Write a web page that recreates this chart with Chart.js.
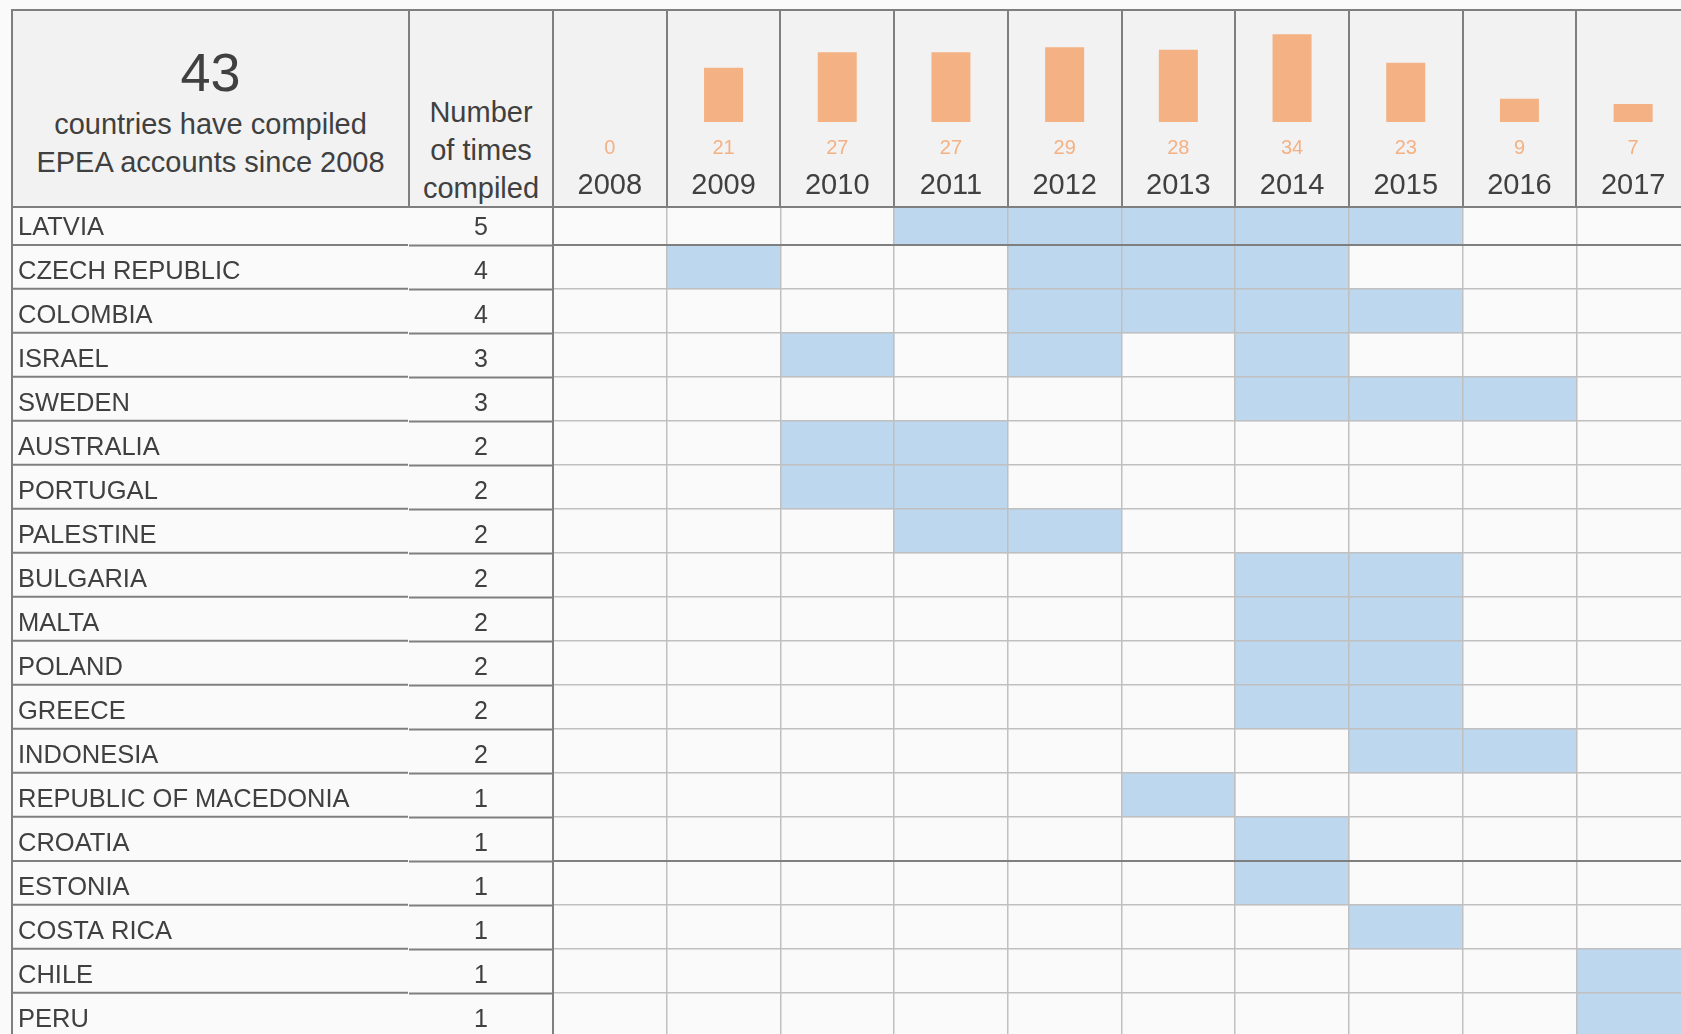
<!DOCTYPE html>
<html>
<head>
<meta charset="utf-8">
<script src="https://cdn.jsdelivr.net/npm/chart.js@4/dist/chart.umd.min.js"></script>
<style>
  html, body { margin: 0; padding: 0; background: #fafafa; overflow: hidden; width: 1681px; height: 1034px; }
  body { position: relative; font-family: "Liberation Sans", Arial, sans-serif; color: #404040; }
  #grid { position: absolute; left: 11px; top: 181px; z-index: 1; }
  #head { position: absolute; left: 11px; top: 9px; width: 1700px; height: 199px; box-sizing: border-box;
          background: #f2f2f2; border-top: 2px solid #7f7f7f; border-bottom: 2px solid #7f7f7f; z-index: 2; }
  #cellA { position: absolute; left: 2px; top: 0; width: 395px; height: 195px; border-right: 2px solid #7f7f7f; text-align: center; }
  #cellA .big { position: absolute; left: 0; right: 0; top: 31px; font-size: 54px; line-height: 60px; }
  #cellA .desc { position: absolute; left: 0; right: 0; top: 94px; font-size: 29px; line-height: 38px; }
  #cellB { position: absolute; left: 399px; top: 82px; width: 142px; text-align: center; font-size: 29px; line-height: 38px; }
  #bars { position: absolute; left: 2px; top: 0; }
  #leftline { position: absolute; left: 11px; top: 9px; width: 2px; height: 1100px; background: #7f7f7f; z-index: 3; }
</style>
</head>
<body>
<canvas id="grid" width="1679" height="876"></canvas>
<div id="head">
  <div id="cellA">
    <div class="big">43</div>
    <div class="desc">countries have compiled<br>EPEA accounts since 2008</div>
  </div>
  <div id="cellB">Number<br>of times<br>compiled</div>
  <canvas id="bars" width="1677" height="195"></canvas>
</div>
<div id="leftline"></div>

<script>
const years = ["2008", "2009", "2010", "2011", "2012", "2013", "2014", "2015", "2016", "2017"];
const countriesPerYear = [0, 21, 27, 27, 29, 28, 34, 23, 9, 7];

const countries = [
    "LATVIA", "CZECH REPUBLIC", "COLOMBIA", "ISRAEL", "SWEDEN", "AUSTRALIA", "PORTUGAL",
    "PALESTINE", "BULGARIA", "MALTA", "POLAND", "GREECE", "INDONESIA",
    "REPUBLIC OF MACEDONIA", "CROATIA", "ESTONIA", "COSTA RICA", "CHILE", "PERU"
];
const timesCompiled = [5, 4, 4, 3, 3, 2, 2, 2, 2, 2, 2, 2, 2, 1, 1, 1, 1, 1, 1];
const yearsCompiled = [
    [2011, 2012, 2013, 2014, 2015],
    [2009, 2012, 2013, 2014],
    [2012, 2013, 2014, 2015],
    [2010, 2012, 2014],
    [2014, 2015, 2016],
    [2010, 2011],
    [2010, 2011],
    [2011, 2012],
    [2014, 2015],
    [2014, 2015],
    [2014, 2015],
    [2014, 2015],
    [2015, 2016],
    [2013],
    [2014],
    [2014],
    [2015],
    [2017],
    [2017]
];

const DARK = "#7f7f7f";
const LIGHT = "#c0c0c0";
const TEXT = "#404040";
const ORANGE = "#f4b183";
const BLUE = "#bdd7ee";

Chart.defaults.font.family = "'Liberation Sans', Arial, sans-serif";
Chart.defaults.animation = false;

// header: number of countries per year
new Chart(document.getElementById("bars"), {
    type: "bar",
    data: {
        labels: years,
        datasets: [{
            data: countriesPerYear,
            backgroundColor: ORANGE,
            barPercentage: 0.343,
            categoryPercentage: 1
        }]
    },
    options: {
        responsive: false,
        devicePixelRatio: 1,
        events: [],
        layout: { padding: { left: 540, top: 0, right: 0, bottom: 0 } },
        plugins: { legend: { display: false }, tooltip: { enabled: false } },
        scales: {
            y: { display: false, min: 0, max: 43 },
            x: {
                type: "category",
                labels: years,
                position: "bottom",
                weight: 2,
                offset: true,
                grid: { offset: true, color: DARK, lineWidth: 2, tickLength: 50 },
                border: { display: false },
                ticks: { autoSkip: false, maxRotation: 0, padding: -37, color: TEXT, font: { size: 29 } },
                afterFit: s => { s.height = 50; }
            },
            xCount: {
                type: "category",
                labels: countriesPerYear.map(String),
                position: "bottom",
                weight: 1,
                offset: true,
                grid: { offset: true, drawOnChartArea: false, color: DARK, lineWidth: 2, tickLength: 34 },
                border: { display: false },
                ticks: { autoSkip: false, maxRotation: 0, padding: -20, color: ORANGE, font: { size: 20 } },
                afterFit: s => { s.height = 34; }
            }
        }
    }
});

// body: one dataset per year, a cell for each country that compiled that year
const cellSets = years.map(y => ({
    data: yearsCompiled.map(list => list.includes(+y) ? [+y, +y + 1] : null),
    backgroundColor: BLUE,
    borderWidth: 0,
    grouped: false,
    barPercentage: 1,
    categoryPercentage: 1,
    xAxisID: "x",
    yAxisID: "y"
}));

new Chart(document.getElementById("grid"), {
    type: "bar",
    data: { labels: countries, datasets: cellSets },
    options: {
        indexAxis: "y",
        responsive: false,
        devicePixelRatio: 1,
        events: [],
        layout: { padding: { left: 7, top: 20, right: 0, bottom: 20 } },
        plugins: { legend: { display: false }, tooltip: { enabled: false } },
        scales: {
            x: {
                type: "linear",
                min: 2008,
                max: 2018,
                beginAtZero: false,
                position: "bottom",
                ticks: { display: false, stepSize: 1 },
                grid: {
                    z: 1,
                    drawTicks: false,
                    color: ctx => ctx.index === 0 ? DARK : LIGHT,
                    lineWidth: ctx => ctx.index === 0 ? 2 : 1.5
                },
                border: { display: false },
                afterFit: s => { s.height = 0; }
            },
            y: {
                type: "category",
                labels: countries,
                position: "left",
                weight: 2,
                offset: true,
                grid: {
                    z: 1,
                    offset: true,
                    color: ctx => (ctx.index === 1 || ctx.index === 15) ? DARK : LIGHT,
                    lineWidth: ctx => (ctx.index === 1 || ctx.index === 15) ? 2 : 1.5,
                    tickColor: DARK,
                    tickWidth: 2,
                    tickLength: 396
                },
                border: { display: true, color: DARK, width: 2 },
                ticks: { autoSkip: false, crossAlign: "far", padding: 0, labelOffset: 5, color: TEXT, font: { size: 25.5 } },
                afterFit: s => { s.width = 391; }
            },
            yCount: {
                type: "category",
                labels: timesCompiled.map(String),
                position: "left",
                weight: 1,
                offset: true,
                grid: {
                    z: 1,
                    offset: true,
                    drawOnChartArea: false,
                    tickColor: DARK,
                    tickWidth: 2,
                    tickLength: 144
                },
                border: { display: true, color: DARK, width: 2 },
                ticks: { autoSkip: false, crossAlign: "center", padding: -79, labelOffset: 5, color: TEXT, font: { size: 25 } },
                afterFit: s => { s.width = 144; }
            }
        }
    }
});
</script>
</body>
</html>
